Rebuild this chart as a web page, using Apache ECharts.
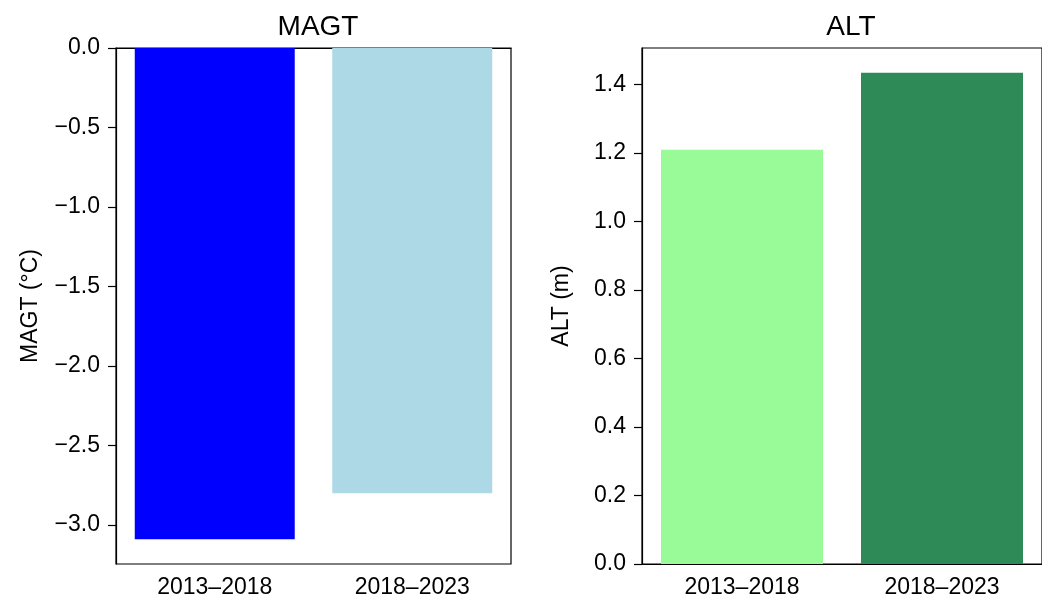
<!DOCTYPE html>
<html>
<head>
<meta charset="utf-8">
<script src="https://cdn.jsdelivr.net/npm/echarts@6/dist/echarts.min.js"></script>
<style>
  html, body { margin: 0; padding: 0; background: #fff; }
  #chart { width: 1042px; height: 603px; }
</style>
</head>
<body>
<div id="chart"></div>
<script>
// Periods compared in both panels
const periods = ['2013\u20132018', '2018\u20132023'];
// Mean annual ground temperature (°C) per period
const magtValues = [-3.09, -2.80];
// Active layer thickness (m) per period
const altValues = [1.21, 1.435];
// Tick positions for each value axis
const magtTicks = [0, -0.5, -1.0, -1.5, -2.0, -2.5, -3.0];
const altTicks = [0, 0.2, 0.4, 0.6, 0.8, 1.0, 1.2, 1.4];
// Bar colours per period
const magtColors = ['#0000ff', '#add8e6'];
const altColors = ['#98fb98', '#2e8b57'];

const FONT = "'Liberation Sans', Arial, sans-serif";
const INK = '#000';

const fmt = v => v.toFixed(1).replace('-', '\u2212');

function xAxisFor(gridIndex) {
  return {
    type: 'category',
    gridIndex,
    data: periods,
    axisLine: { lineStyle: { color: INK, width: 1.2 } },
    axisTick: { alignWithLabel: true, length: 8, lineStyle: { color: INK, width: 1.2 } },
    axisLabel: { color: INK, fontSize: 23, fontFamily: FONT, margin: 12 }
  };
}

function yAxisFor(gridIndex, name, min, max, ticks, nameGap) {
  return {
    type: 'value',
    gridIndex,
    min, max,
    name,
    nameLocation: 'middle',
    nameRotate: 90,
    nameGap,
    nameTextStyle: { color: INK, fontSize: 23, fontFamily: FONT },
    splitLine: { show: false },
    axisLine: { show: true, lineStyle: { color: INK, width: 1.2 } },
    axisTick: { show: true, length: 8, customValues: ticks, lineStyle: { color: INK, width: 1.2 } },
    axisLabel: { color: INK, fontSize: 23, fontFamily: FONT, margin: 16, customValues: ticks, formatter: fmt }
  };
}

const chart = echarts.init(document.getElementById('chart'), null, { renderer: 'canvas' });

chart.setOption({
  animation: false,
  backgroundColor: '#fff',
  title: [
    { text: 'MAGT', left: 313, top: 8, textAlign: 'center',
      textStyle: { color: INK, fontSize: 28, fontWeight: 'normal', fontFamily: FONT } },
    { text: 'ALT', left: 846, top: 8, textAlign: 'center',
      textStyle: { color: INK, fontSize: 28, fontWeight: 'normal', fontFamily: FONT } }
  ],
  grid: [
    { left: 116, top: 48, width: 395, height: 516, show: true, borderColor: INK, borderWidth: 1.2, backgroundColor: 'transparent' },
    { left: 642, top: 48, width: 408, height: 516, show: true, borderColor: INK, borderWidth: 1.2, backgroundColor: 'transparent' }
  ],
  xAxis: [xAxisFor(0), xAxisFor(1)],
  yAxis: [
    yAxisFor(0, 'MAGT (\u00b0C)', -3.245, 0, magtTicks, 74),
    yAxisFor(1, 'ALT (m)', 0, 1.507, altTicks, 69)
  ],
  series: [
    {
      type: 'bar', xAxisIndex: 0, yAxisIndex: 0, barWidth: '81%',
      data: magtValues.map((v, i) => ({ value: v, itemStyle: { color: magtColors[i] } }))
    },
    {
      type: 'bar', xAxisIndex: 1, yAxisIndex: 1, barWidth: '81%',
      data: altValues.map((v, i) => ({ value: v, itemStyle: { color: altColors[i] } }))
    }
  ]
});
</script>
</body>
</html>
